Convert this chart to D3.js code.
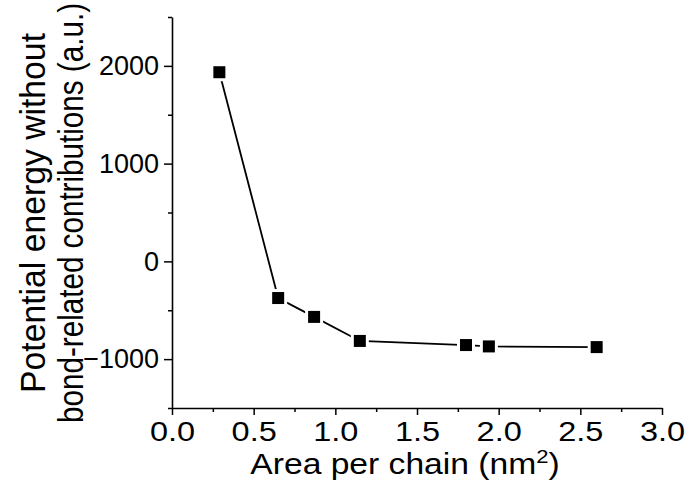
<!DOCTYPE html>
<html>
<head>
<meta charset="utf-8">
<script src="https://cdn.jsdelivr.net/npm/d3@7"></script>
<style>
  body { margin: 0; background: #fff; }
  svg text { font-family: "Liberation Sans", Arial, sans-serif; fill: #000; }
</style>
</head>
<body>
<div id="chart"></div>
<script>
// data
const areaPerChain = [0.29, 0.65, 0.87, 1.15, 1.80, 1.94, 2.60];
const potentialEnergy = [1935, -375, -568, -814, -856, -870, -877];
const xTickValues = [0, 0.5, 1, 1.5, 2, 2.5, 3];
const yTickValues = [-1000, 0, 1000, 2000];

const width = 685, height = 499;
const margin = {top: 17, right: 23, bottom: 91, left: 172};
const stretch = 1.16; // the source glyphs are a bit wide

const svg = d3.select("#chart").append("svg")
    .attr("width", width)
    .attr("height", height);

const x = d3.scaleLinear()
    .domain([0, 3])
    .range([margin.left, width - margin.right]);

const y = d3.scaleLinear()
    .domain([-1500, 2500])
    .range([height - margin.bottom, margin.top]);

// minor ticks
const xMinor = d3.range(0.25, 3, 0.5);
const yMinor = [-1500, -500, 500, 1500, 2500];

svg.append("g")
    .attr("transform", "translate(0," + y(-1500) + ")")
    .call(d3.axisBottom(x).tickValues(xMinor).tickSize(4).tickFormat(""))
    .call(g => g.select(".domain").remove())
    .selectAll("line").attr("stroke-width", 1.5);

svg.append("g")
    .attr("transform", "translate(" + x(0) + ",0)")
    .call(d3.axisLeft(y).tickValues(yMinor).tickSize(4).tickFormat(""))
    .call(g => g.select(".domain").remove())
    .selectAll("line").attr("stroke-width", 1.5);

// x axis
const xAxis = svg.append("g")
    .attr("transform", "translate(0," + y(-1500) + ")")
    .call(d3.axisBottom(x)
        .tickValues(xTickValues)
        .tickFormat(d3.format(".1f"))
        .tickSizeInner(7)
        .tickSizeOuter(0)
        .tickPadding(6));
xAxis.select(".domain").attr("stroke-width", 1.6);
xAxis.selectAll("line").attr("stroke-width", 1.5);
xAxis.selectAll("text")
    .attr("font-size", 28)
    .attr("font-family", "Liberation Sans")
    .attr("transform", "scale(" + stretch + ",1)");

// y axis
const yAxis = svg.append("g")
    .attr("transform", "translate(" + x(0) + ",0)")
    .call(d3.axisLeft(y)
        .tickValues(yTickValues)
        .tickFormat(d3.format("d"))
        .tickSizeInner(8)
        .tickSizeOuter(0)
        .tickPadding(5));
yAxis.select(".domain").attr("stroke-width", 1.6);
yAxis.selectAll("line").attr("stroke-width", 1.5);
yAxis.selectAll("text")
    .attr("font-size", 27)
    .attr("font-family", "Liberation Sans");

// the line
const lineData = areaPerChain.map((a, i) => ({a: a, e: potentialEnergy[i]}));

svg.append("path")
    .datum(lineData)
    .attr("fill", "none")
    .attr("stroke", "#000")
    .attr("stroke-width", 1.8)
    .attr("d", d3.line()
        .x(d => x(d.a))
        .y(d => y(d.e)));

// white halo gives the small gap between line and marker
const s = 12, halo = 18;
svg.append("g")
    .selectAll("rect")
    .data(lineData)
    .enter()
    .append("rect")
        .attr("x", d => x(d.a) - halo / 2)
        .attr("y", d => y(d.e) - halo / 2)
        .attr("width", halo)
        .attr("height", halo)
        .attr("fill", "#fff");

svg.append("g")
    .selectAll("rect")
    .data(lineData)
    .enter()
    .append("rect")
        .attr("x", d => x(d.a) - s / 2)
        .attr("y", d => y(d.e) - s / 2)
        .attr("width", s)
        .attr("height", s)
        .attr("fill", "#000");

// axis titles
const xTitle = svg.append("text")
    .attr("transform", "translate(405,474) scale(" + stretch + ",1)")
    .attr("text-anchor", "middle")
    .attr("font-size", 29);
xTitle.append("tspan").text("Area per chain (nm");
xTitle.append("tspan").attr("font-size", 19).attr("dy", -11).text("2");
xTitle.append("tspan").attr("dy", 11).text(")");

const yTitle = svg.append("text")
    .attr("transform", "translate(0,213) scale(1.18,1) rotate(-90)")
    .attr("text-anchor", "middle")
    .attr("font-size", 29);
yTitle.append("tspan").attr("x", 0).attr("y", 38)
    .attr("textLength", 360).attr("lengthAdjust", "spacingAndGlyphs")
    .text("Potential energy without");
yTitle.append("tspan").attr("x", 0).attr("y", 70)
    .attr("textLength", 420).attr("lengthAdjust", "spacingAndGlyphs")
    .text("bond-related contributions (a.u.)");
</script>
</body>
</html>
